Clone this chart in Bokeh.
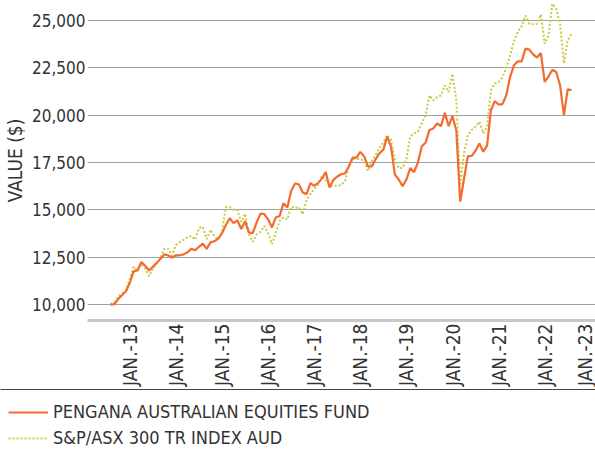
import math
from bokeh.plotting import figure
from bokeh.models import (FixedTicker, NumeralTickFormatter, Range1d, Legend, LegendItem,
                          LinearAxis)
from bokeh.layouts import column, row
from bokeh.embed import file_html
from bokeh.resources import INLINE

# ---------------- data (monthly, Aug 2012 .. Aug 2022) ----------------
START_YEAR = 2012
START_MONTH = 8

FUND = [
    10000, 10020, 10300, 10500, 10700, 11150, 11750, 11800, 12250, 12050,
    11800, 12000, 12200, 12420, 12650, 12590, 12480, 12600, 12600, 12650,
    12760, 12940, 12870, 13050, 13220, 12940, 13280, 13340, 13480, 13760,
    14200, 14560, 14300, 14450, 13990, 14400, 13800, 13770, 14330, 14800,
    14770, 14500, 14070, 14600, 14680, 15350, 15120, 16000, 16390, 16350,
    15920, 15830, 16410, 16270, 16410, 16650, 17000, 16180, 16580, 16760,
    16880, 16920, 17290, 17760, 17760, 18060, 17820, 17290, 17290, 17680,
    17990, 18180, 18870, 18340, 16860, 16600, 16250, 16600, 17210, 16990,
    17510, 18340, 18550, 19220, 19300, 19560, 19420, 20120, 19420, 19950,
    19180, 15440, 16640, 17840, 17850, 18120, 18510, 18070, 18390, 20260,
    20740, 20560, 20580, 21050, 22020, 22630, 22840, 22840, 23510, 23460,
    23210, 23040, 23280, 21750, 22050, 22400, 22280, 21580, 20000, 21370,
    21320,
]

INDEX = [
    10000, 10150, 10420, 10580, 10750, 11350, 12000, 11800, 12150, 11900,
    11500, 11900, 12150, 12480, 12950, 12950, 12590, 13150, 13300, 13420,
    13550, 13620, 13430, 14050, 14100, 13450, 13950, 13600, 13450, 13850,
    15150, 15150, 15000, 14980, 14350, 14800, 13700, 13310, 13700, 13840,
    14150, 13770, 13190, 13800, 14420, 14600, 14500, 15160, 15100, 15150,
    14770, 15500, 15830, 16100, 16350, 16790, 16550, 16300, 16270, 16270,
    16300, 16530, 17240, 17680, 17680, 17680, 17600, 17060, 17590, 17900,
    18300, 18550, 18950, 18690, 17650, 17210, 17210, 17650, 18870, 19040,
    19130, 19560, 20000, 21040, 20780, 20960, 21040, 21570, 21220, 22180,
    20780, 16280, 18000, 18950, 19210, 19400, 19650, 19040, 19380, 21320,
    21670, 21750, 22000, 22500, 23160, 23900, 24400, 24700, 25260, 24820,
    24800, 24820, 25320, 23770, 24210, 25880, 25610, 24820, 22740, 23950,
    24300,
]

SERIES_NAMES = ["PENGANA AUSTRALIAN EQUITIES FUND", "S&P/ASX 300 TR INDEX AUD"]
Y_TICKS = [10000, 12500, 15000, 17500, 20000, 22500, 25000]
X_TICK_YEARS = [2013, 2014, 2015, 2016, 2017, 2018, 2019, 2020, 2021, 2022, 2023]
X_TICK_LABELS = ["JAN.-13", "JAN.-14", "JAN.-15", "JAN.-16", "JAN.-17", "JAN.-18",
                 "JAN.-19", "JAN.-20", "JAN.-21", "JAN.-22", "JAN.-23"]

# ---------------- styles ----------------
FONT = "DejaVu Sans Condensed"
TEXT_COLOR = "#333333"
FUND_COLOR = "#F26B2F"
INDEX_COLOR = "#C9C93E"

x = [START_YEAR + (START_MONTH - 1 + i) / 12.0 for i in range(len(FUND))]


def no_ticks(ax):
    ax.major_tick_line_color = None
    ax.minor_tick_line_color = None
    ax.major_tick_out = 0
    ax.major_tick_in = 0
    ax.minor_tick_out = 0
    ax.minor_tick_in = 0


# ---------------- main chart ----------------
p = figure(width=595, height=389,
           x_range=Range1d(2012.082, 2023.102),
           y_range=Range1d(9158, 26053),
           output_backend="svg", toolbar_location=None,
           min_border_left=87, min_border_right=0,
           min_border_top=0, min_border_bottom=68)
p.outline_line_color = None
p.background_fill_color = "white"
p.border_fill_color = "white"

r_index = p.line(x, INDEX, line_color=INDEX_COLOR, line_width=2, line_dash="2 2")
r_fund = p.line(x, FUND, line_color=FUND_COLOR, line_width=2.2)

xa = p.xaxis[0]
xa.ticker = FixedTicker(ticks=X_TICK_YEARS)
xa.major_label_overrides = {yr: lab for yr, lab in zip(X_TICK_YEARS, X_TICK_LABELS)}
xa.major_label_orientation = math.pi / 2
no_ticks(xa)
xa.axis_line_color = "#C8C8C8"
xa.axis_line_width = 3
xa.major_label_standoff = 3
xa.major_label_text_font = FONT
xa.major_label_text_font_size = "19px"
xa.major_label_text_color = TEXT_COLOR

ya = p.yaxis[0]
ya.ticker = FixedTicker(ticks=Y_TICKS)
ya.formatter = NumeralTickFormatter(format="0,0")
ya.axis_line_color = None
no_ticks(ya)
ya.major_label_standoff = 2
ya.major_label_text_font = FONT
ya.major_label_text_font_size = "17px"
ya.major_label_text_color = TEXT_COLOR
ya.axis_label = "VALUE ($)"
ya.axis_label_standoff = 3
ya.axis_label_text_font = FONT
ya.axis_label_text_font_size = "19px"
ya.axis_label_text_font_style = "normal"
ya.axis_label_text_color = TEXT_COLOR

p.xgrid.grid_line_color = None
p.ygrid.ticker = FixedTicker(ticks=Y_TICKS)
p.ygrid.grid_line_color = "#A0A0A0"
p.ygrid.grid_line_width = 1

# ---------------- legend strip ----------------
lg = figure(width=595, height=61, x_range=Range1d(0, 1), y_range=Range1d(0, 1),
            output_backend="svg", toolbar_location=None,
            x_axis_location=None, y_axis_location=None,
            min_border_left=0, min_border_right=0, min_border_bottom=0, min_border_top=0)
lg.grid.visible = False
lg.outline_line_color = None
lg.border_fill_color = "white"
lg.background_fill_color = "white"

rule = LinearAxis(ticker=FixedTicker(ticks=[]), axis_line_color="#444444", axis_line_width=1,
                  major_label_standoff=0, major_label_text_font_size="1px")
no_ticks(rule)
lg.add_layout(rule, "above")

# proxies of the two series (their data lie outside this strip's ranges,
# so only their legend samples are seen)
l_fund = lg.line(x, FUND, line_color=FUND_COLOR, line_width=2.2)
l_index = lg.line(x, INDEX, line_color=INDEX_COLOR, line_width=2, line_dash="2 2")

legend = Legend(items=[LegendItem(label=SERIES_NAMES[0], renderers=[l_fund]),
                       LegendItem(label=SERIES_NAMES[1], renderers=[l_index])],
                location=(8, 2), orientation="vertical",
                margin=0, padding=0, spacing=5,
                glyph_width=40, glyph_height=20, label_height=20, label_standoff=5,
                border_line_color=None, background_fill_alpha=0.0,
                label_text_font=FONT, label_text_font_size="18px",
                label_text_color=TEXT_COLOR)
lg.add_layout(legend)

layout = column(row(p), row(lg))

open("out.html", "w").write(file_html(layout, INLINE))
